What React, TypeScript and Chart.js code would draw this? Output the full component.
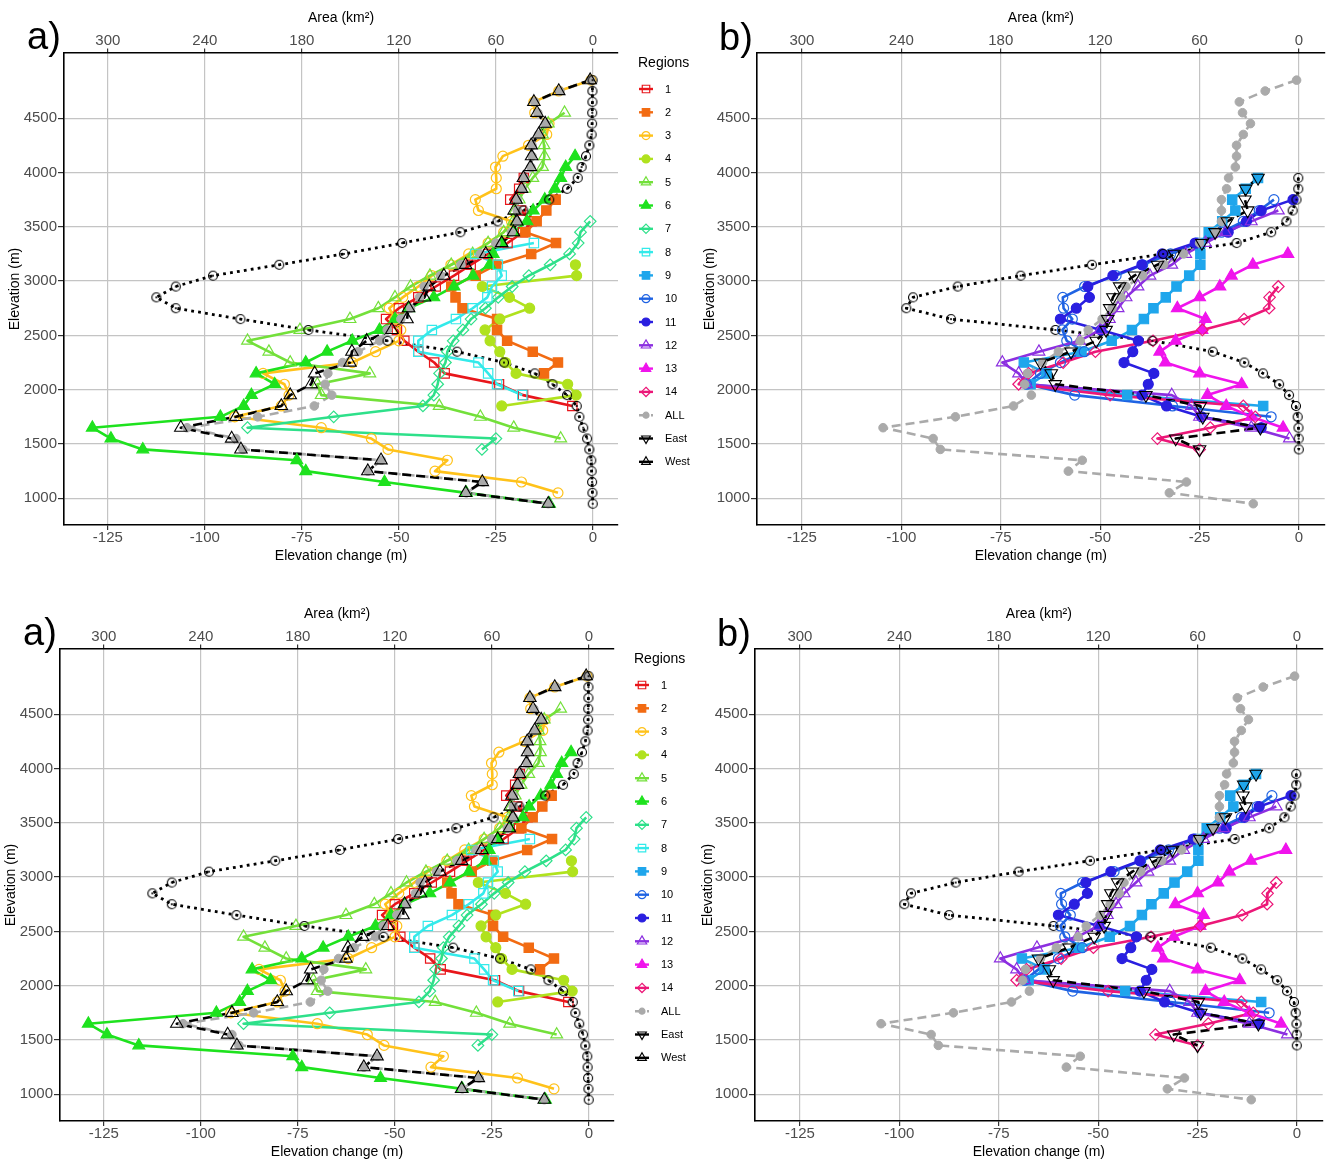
import React, { useEffect, useRef } from "react";
import { Chart, registerables } from "chart.js";

Chart.register(...registerables);

const FONT = '"Liberation Sans", Arial, Helvetica, sans-serif';

// ---------- axis ticks ----------
const elevationTicks = [1000, 1500, 2000, 2500, 3000, 3500, 4000, 4500];
const changeTicks = [-125, -100, -75, -50, -25, 0];
const areaTicks = [300, 240, 180, 120, 60, 0];

// ---------- data: 100 m elevation bands, listed from the top band downward ----------
// Hypsometry (km2)
const areaWestTop = 4850;
const areaWest = [0.2, 0.3, 0.3, 0.4, 0.5, 0.8, 2.2, 4.3, 7, 9.4, 16, 27, 43, 59, 82, 118, 154, 194, 235, 258, 270, 258, 218, 176, 127, 84, 55, 36, 25, 16, 10, 8.4, 6, 3.6, 2.2, 1, 0.8, 0.5, 0.3, 0.1];
const areaEastTop = 3950;
const areaEast = [0.4, 0.4, 1.5, 3.8, 7.6, 16.8, 37.7, 82, 125, 168, 206, 233, 237, 210, 147, 88.5, 52, 33, 21.7, 12, 6, 1.8, 0.8, 0.3, 0.2, 0.1];

// Elevation change (m)
const allTop = 4850;
const allChange = [-0.6, -8.5, -15, -14.2, -12.2, -14, -15.7, -15.7, -16, -17.7, -18.2, -19.5, -19.5, -19.5, -21, -25, -29, -34, -39.3, -43.5, -44.7, -47, -49.5, -53, -55, -60.5, -64.5, -68.3, -69, -67.3, -71.8, -86.4, -104.6, -92, -90.2, -54.5, -58, -28.3, -32.6, -11.5];
const westTop = 4850;
const westChange = [-0.7, -8.8, -15.2, -14.4, -12.3, -14, -15.9, -15.8, -16.1, -17.9, -18.4, -19.8, -20.3, -19.6, -20.5, -23.5, -27.6, -32.8, -38.4, -42.2, -43.4, -47.5, -47.9, -51.8, -58.3, -62.1, -62.6, -71.7, -72.6, -78, -80.3, -92, -106.2, -93.1, -90.7, -54.6, -58, -28.5, -32.8, -11.5];
const eastTop = 3950;
const eastChange = [-10.3, -13.4, -13.6, -12.9, -18, -21.1, -24.4, -31.3, -35.6, -41.4, -45.1, -46.8, -47.6, -48.1, -48.5, -51, -57.3, -65, -62.3, -61.3, -38.5, -24.8, -24.2, -9.7, -31, -25];

const r1Top = 3950;
const r1 = [-17.8, -19, -21.3, -18.5, -15.8, -18, -22, -27, -31.5, -35.8, -40.5, -45, -50, -53.3, -50.5, -48.6, -45, -40.9, -38.2, -24.2, -18, -5.3];
const r2Top = 3750;
const r2 = [-9.6, -12, -14.5, -17.4, -9.5, -15.9, -24.9, -30.2, -36.5, -35.4, -33.6, -24.7, -24.7, -22.1, -15.5, -9, -12.6];
const r3Top = 4850;
const r3 = [-0.5, -8.8, -15.2, -15, -11.3, -11.9, -16.6, -23.2, -25.1, -24.9, -24.9, -30.3, -29.5, -21, -23, -27, -32, -36.6, -41.5, -45, -49, -52.5, -51, -49.5, -50, -56, -62, -85, -79.5, -78.3, -80.3, -92.3, -70, -57.1, -52.8, -37.5, -40.7, -18.4, -9];
const r4Top = 3150;
const r4 = [-4.5, -4.2, -28.5, -21.5, -16.3, -24, -27.8, -26.5, -24, -22.5, -19.8, -6.5, -4.3, -23.5];
const r5Top = 4550;
const r5 = [-7.3, -11.5, -13, -12.6, -12.5, -13, -15.5, -17.5, -19, -20, -20.5, -23, -27, -31, -36.5, -42, -47, -51, -55.3, -62.6, -75.5, -89, -83.5, -78, -57.5, -71, -70, -39.6, -29, -20.4, -8.3];
const r6Top = 4150;
const r6 = [-4.6, -7, -8.3, -9.8, -12.4, -15.4, -17, -20.5, -23.5, -25.7, -26.6, -30.9, -35.8, -41, -47.5, -51, -55, -62, -68.5, -74, -86.8, -82, -88, -90, -96, -129, -124.2, -116, -76.3, -74, -53.7, -32.6, -11.2];
const r7Top = 3550;
const r7 = [-0.7, -3.2, -3.8, -6, -11, -16.5, -20.8, -24.4, -27.7, -31.4, -33.5, -36, -37.5, -38, -39.5, -40, -41, -43.8, -66.8, -89, -25, -28.6];
const r8Top = 3350;
const r8 = [-15.2, -30.3, -24.5, -23.5, -26, -27.2, -31, -35.3, -41.5, -45, -45, -29.5, -27, -24.7, -18.2];
const r9Top = 3950;
const r9 = [-10.3, -13.4, -16.8, -16, -19.3, -22.7, -24.8, -24.8, -24.8, -27.6, -30.8, -33.5, -36.6, -39, -42, -47.1, -54.7, -69.2, -63.5, -67.5, -43.2, -9];
const r10Top = 3750;
const r10 = [-6.3, -10, -14, -19.5, -25.6, -32.3, -39.3, -46, -53.9, -59.4, -59.2, -57, -59.5, -58.4, -54, -60, -65, -68.5, -56.4, -31.8, -7];
const r11Top = 3750;
const r11 = [-1.5, -9.5, -13.2, -17.8, -26.1, -34.4, -39.5, -46.8, -53.1, -52.7, -56, -60, -49.8, -40.4, -41.8, -44, -36.5, -37.9, -39.5, -33.3, -24.5, -9.5];
const r12Top = 3650;
const r12 = [-5.2, -12, -18.5, -23.5, -28.5, -32, -37.5, -40.5, -43.5, -45.5, -47.7, -50, -55.2, -65.4, -74.6, -70.5, -68.5, -32, -27, -25, -12, -2.4];
const r13Top = 3250;
const r13 = [-2.8, -11.6, -17, -19.9, -25, -30.6, -23.5, -24.4, -31, -35, -33.6, -25, -14.4, -23, -18.3, -12, -4];
const r14Top = 2950;
const r14 = [-5.2, -7.4, -7.5, -13.8, -24.3, -36.7, -51.2, -59.3, -68, -70.5, -47.5, -14, -11, -22.3, -35.6, -25];

// ---------- tables built from the arrays ----------
const REGION_DATA: Record<number, [number, number[]]> = {
  1: [r1Top, r1], 2: [r2Top, r2], 3: [r3Top, r3], 4: [r4Top, r4], 5: [r5Top, r5],
  6: [r6Top, r6], 7: [r7Top, r7], 8: [r8Top, r8], 9: [r9Top, r9], 10: [r10Top, r10],
  11: [r11Top, r11], 12: [r12Top, r12], 13: [r13Top, r13], 14: [r14Top, r14],
};

type Shape = "circle" | "rect" | "rectRot" | "triangle";
const REGION_STYLE: Record<number, { color: string; shape: Shape; filled: boolean }> = {
  1: { color: "#E8161B", shape: "rect", filled: false },
  2: { color: "#F26B12", shape: "rect", filled: true },
  3: { color: "#FFC21A", shape: "circle", filled: false },
  4: { color: "#B0E21E", shape: "circle", filled: true },
  5: { color: "#73E03A", shape: "triangle", filled: false },
  6: { color: "#1EE21E", shape: "triangle", filled: true },
  7: { color: "#2EE08A", shape: "rectRot", filled: false },
  8: { color: "#33EAEA", shape: "rect", filled: false },
  9: { color: "#1FA6EC", shape: "rect", filled: true },
  10: { color: "#1F63E3", shape: "circle", filled: false },
  11: { color: "#2A1FE0", shape: "circle", filled: true },
  12: { color: "#8C2FE0", shape: "triangle", filled: false },
  13: { color: "#F014EC", shape: "triangle", filled: true },
  14: { color: "#EC1778", shape: "rectRot", filled: false },
};
const SHAPE_RADIUS: Record<Shape, number> = { circle: 5, rect: 6.6, rectRot: 5.8, triangle: 6.8 };
const ALL_COLOR = "#AAAAAA";

const pts = (top: number, vals: number[]) => vals.map((v, i) => ({ x: v, y: top - 100 * i }));

// ---------- drawing helpers ----------
function drawMarker(ctx: CanvasRenderingContext2D, shape: Shape, x: number, y: number, r: number,
  fill: string | null, stroke: string | null, lw: number, rot = 0) {
  ctx.save();
  ctx.translate(x, y);
  ctx.rotate((rot * Math.PI) / 180);
  ctx.beginPath();
  if (shape === "circle") ctx.arc(0, 0, r, 0, Math.PI * 2);
  else if (shape === "rect") {
    const s = r * Math.SQRT1_2;
    ctx.rect(-s, -s, 2 * s, 2 * s);
  } else if (shape === "rectRot") {
    ctx.moveTo(0, -r); ctx.lineTo(r, 0); ctx.lineTo(0, r); ctx.lineTo(-r, 0); ctx.closePath();
  } else {
    for (let k = 0; k < 3; k++) {
      const a = (k * 2 * Math.PI) / 3;
      const px = Math.sin(a) * r, py = -Math.cos(a) * r;
      if (k === 0) ctx.moveTo(px, py); else ctx.lineTo(px, py);
    }
    ctx.closePath();
  }
  if (fill) { ctx.fillStyle = fill; ctx.fill(); }
  if (stroke) { ctx.strokeStyle = stroke; ctx.lineWidth = lw; ctx.stroke(); }
  ctx.restore();
}

const legendPlugin = {
  id: "regionsLegend",
  afterDraw(chart: any, _args: any, opts: any) {
    if (!opts || !opts.show) return;
    const ctx: CanvasRenderingContext2D = chart.ctx;
    const x1 = opts.x, x2 = opts.x + 14, xm = opts.x + 7, xl = opts.x + 26;
    ctx.save();
    ctx.textBaseline = "middle";
    ctx.textAlign = "left";
    ctx.fillStyle = "#000";
    ctx.font = `14px ${FONT}`;
    ctx.fillText("Regions", opts.x - 1, opts.titleY);
    const items: any[] = [];
    for (let id = 1; id <= 14; id++) {
      const st = REGION_STYLE[id];
      items.push({ label: String(id), color: st.color, shape: st.shape, filled: st.filled, dash: false, r: SHAPE_RADIUS[st.shape] * 0.8, rot: 0 });
    }
    items.push({ label: "ALL", color: ALL_COLOR, shape: "circle", filled: true, dash: true, r: 3, rot: 0 });
    items.push({ label: "East", color: "#000", shape: "triangle", filled: false, dash: false, r: 5, rot: 180 });
    items.push({ label: "West", color: "#000", shape: "triangle", filled: false, dash: false, r: 5, rot: 0 });
    items.forEach((it, i) => {
      const y = opts.y0 + i * opts.dy;
      ctx.strokeStyle = it.color;
      ctx.lineWidth = 2.4;
      ctx.setLineDash(it.dash ? [4, 2] : []);
      ctx.beginPath(); ctx.moveTo(x1, y); ctx.lineTo(x2, y); ctx.stroke();
      ctx.setLineDash([]);
      drawMarker(ctx, it.shape, xm, y, it.r, it.filled ? it.color : null, it.color, 1.2, it.rot);
      ctx.fillStyle = "#000";
      ctx.font = `11px ${FONT}`;
      ctx.fillText(it.label, xl, y + 0.5);
    });
    ctx.restore();
  },
};

const panelLabelPlugin = {
  id: "panelLabel",
  afterDraw(chart: any, _args: any, opts: any) {
    if (!opts || !opts.text) return;
    const ctx: CanvasRenderingContext2D = chart.ctx;
    ctx.save();
    ctx.fillStyle = "#000";
    ctx.font = `38px ${FONT}`;
    ctx.textBaseline = "alphabetic";
    ctx.textAlign = "left";
    ctx.fillText(opts.text, opts.x, opts.y);
    ctx.restore();
  },
};

function makeAreaMarker(): HTMLCanvasElement {
  const c = document.createElement("canvas");
  c.width = 12; c.height = 12;
  const g = c.getContext("2d")!;
  g.strokeStyle = "#000"; g.lineWidth = 1.1;
  g.beginPath(); g.arc(6, 6, 4.5, 0, Math.PI * 2); g.stroke();
  g.fillStyle = "#000";
  g.beginPath(); g.arc(6, 6, 1.1, 0, Math.PI * 2); g.fill();
  return c;
}

const X_MIN = -136.3;
const X_MAX = 6.47;
const AREA_PER_M = 2.4; // top axis: 300 km2 sits over -125 m

type PanelProps = { kind: "A" | "B"; left: number; top: number; width: number; label: string; labelX: number; labelY: number };

function Panel({ kind, left, top, width, label, labelX, labelY }: PanelProps) {
  const ref = useRef<HTMLCanvasElement>(null);
  useEffect(() => {
    const canvas = ref.current;
    if (!canvas) return;
    const isA = kind === "A";
    const yAxisW = isA ? 64 : 57;
    const padRight = isA ? 82 : 4;
    const regionIds = isA ? [1, 2, 3, 4, 5, 6, 7, 8] : [9, 10, 11, 12, 13, 14];
    const areaPts = isA ? pts(areaWestTop, areaWest) : pts(areaEastTop, areaEast);
    const sumPts = isA ? pts(westTop, westChange) : pts(eastTop, eastChange);
    const allPts = pts(allTop, allChange);
    const areaMarker = makeAreaMarker();

    const lineDs = (data: any[], color: string, width: number, dash: number[], axis = "x") => ({
      data, xAxisID: axis, showLine: true, pointRadius: 0, borderColor: color, borderWidth: width,
      borderDash: dash, borderJoinStyle: "round", borderCapStyle: "butt", fill: false, tension: 0,
    });
    const pointDs = (data: any[], style: any, radius: number, bg: string, border: string, bw: number, rot = 0, axis = "x") => ({
      data, xAxisID: axis, showLine: false, pointStyle: style, pointRadius: radius,
      pointBackgroundColor: bg, pointBorderColor: border, pointBorderWidth: bw, pointRotation: rot,
    });

    const layers: any[] = [];
    layers.push(lineDs(areaPts, "#000", 2.8, [2.8, 4.2], "x2"));
    regionIds.forEach((id) => {
      const [t, v] = REGION_DATA[id];
      layers.push(lineDs(pts(t, v), REGION_STYLE[id].color, 2.6, []));
    });
    layers.push(lineDs(allPts, ALL_COLOR, 2.6, [9, 5]));
    layers.push(lineDs(sumPts, "#000", 2.6, [9, 5]));
    regionIds.forEach((id) => {
      const [t, v] = REGION_DATA[id];
      const st = REGION_STYLE[id];
      layers.push(pointDs(pts(t, v), st.shape, SHAPE_RADIUS[st.shape], st.filled ? st.color : "rgba(255,255,255,0)", st.color, 1.2));
    });
    layers.push(pointDs(allPts, "circle", 4.3, ALL_COLOR, ALL_COLOR, 1));
    layers.push(pointDs(sumPts, "triangle", 7.2, "rgba(255,255,255,0)", "#000", 1.1, isA ? 0 : 180));
    layers.push(pointDs(areaPts, areaMarker, 4.5, "rgba(0,0,0,0)", "#000", 1, 0, "x2"));
    layers.forEach((d, i) => { d.order = layers.length - i; });

    const tickFont = { family: FONT, size: 15, lineHeight: 1 };
    const titleFont = { family: FONT, size: 14 };
    const gridBase = { color: "#C4C4C4", lineWidth: 1.2, tickColor: "#333333" };

    const chart = new Chart(canvas, {
      type: "scatter",
      data: { datasets: layers },
      plugins: [legendPlugin, panelLabelPlugin],
      options: {
        responsive: false,
        animation: false,
        events: [],
        layout: { padding: { left: 0, right: padRight, top: 0, bottom: 0 } },
        plugins: {
          legend: { display: false },
          tooltip: { enabled: false },
          regionsLegend: { show: isA, x: 639, titleY: 63.5, y0: 89, dy: 23.3 },
          panelLabel: { text: label, x: labelX, y: labelY },
        } as any,
        scales: {
          x: {
            type: "linear", position: "bottom", min: X_MIN, max: X_MAX,
            afterBuildTicks: (s: any) => { s.ticks = changeTicks.map((v) => ({ value: v })); },
            afterFit: (s: any) => { s.height = 56; },
            grid: { ...gridBase, tickLength: 5 },
            border: { color: "#000", width: 1.6 },
            ticks: { color: "#4D4D4D", font: tickFont, padding: 0, maxRotation: 0, autoSkip: false, callback: (v: any) => String(v) },
            title: { display: true, text: "Elevation change (m)", color: "#000", font: titleFont, padding: { top: 0, bottom: 16 } },
          },
          x2: {
            type: "linear", position: "top", reverse: true,
            min: -X_MAX * AREA_PER_M, max: -X_MIN * AREA_PER_M,
            afterBuildTicks: (s: any) => { s.ticks = areaTicks.map((v) => ({ value: v })); },
            afterFit: (s: any) => { s.height = 53; },
            grid: { ...gridBase, drawOnChartArea: false, tickLength: 4.5 },
            border: { color: "#000", width: 1.6 },
            ticks: { color: "#4D4D4D", font: tickFont, padding: 0, maxRotation: 0, autoSkip: false, callback: (v: any) => String(v) },
            title: { display: true, text: "Area (km²)", color: "#000", font: titleFont, padding: { top: 10, bottom: 0 } },
          },
          y: {
            type: "linear", position: "left", min: 754, max: 5100,
            afterBuildTicks: (s: any) => { s.ticks = elevationTicks.map((v) => ({ value: v })); },
            afterFit: (s: any) => { s.width = yAxisW; },
            grid: { ...gridBase, tickLength: 6 },
            border: { color: "#000", width: 1.6 },
            ticks: { color: "#4D4D4D", font: tickFont, padding: 1, autoSkip: false, callback: (v: any) => String(v) },
            title: { display: true, text: "Elevation (m)", color: "#000", font: titleFont, padding: { top: isA ? 7.2 : 1.6, bottom: 0 } },
          },
        } as any,
      } as any,
    });
    return () => chart.destroy();
  }, [kind, label, labelX, labelY]);

  return (
    <canvas
      ref={ref}
      width={width}
      height={581}
      style={{ position: "absolute", left, top, width, height: 581, display: "block" }}
    />
  );
}

export default function App() {
  useEffect(() => {
    document.body.style.margin = "0";
  }, []);
  return (
    <div style={{ position: "fixed", left: 0, top: 0, width: 1333, height: 1162, overflow: "hidden", background: "#fff" }}>
      <Panel kind="A" left={0} top={0} width={700} label="a)" labelX={27} labelY={49} />
      <Panel kind="B" left={700} top={0} width={633} label="b)" labelX={19} labelY={50} />
      <Panel kind="A" left={-4} top={596} width={700} label="a)" labelX={27} labelY={49} />
      <Panel kind="B" left={698} top={596} width={633} label="b)" labelX={19} labelY={50} />
    </div>
  );
}
